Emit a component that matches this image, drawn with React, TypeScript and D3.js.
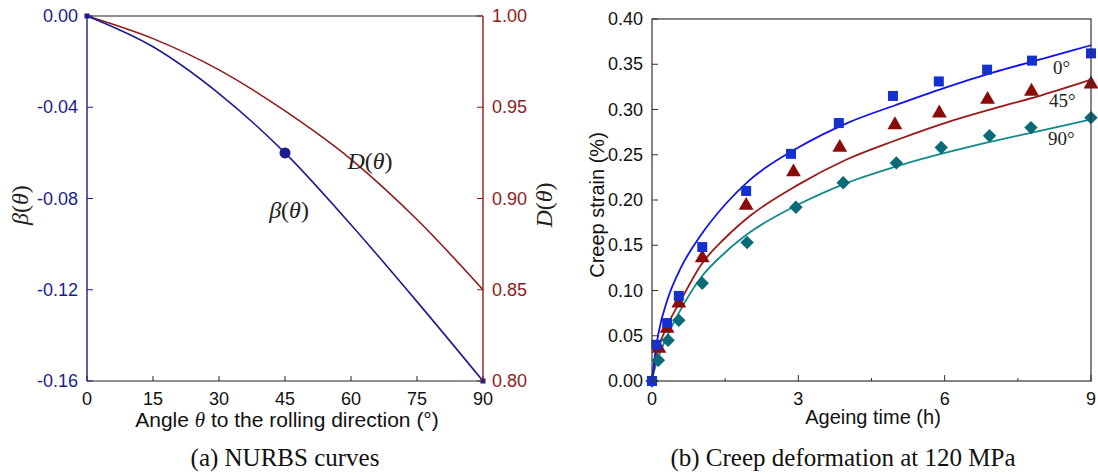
import * as d3 from 'd3'

// ---- (a) NURBS curves ----
const angleTicks = [0, 15, 30, 45, 60, 75, 90]
const betaTicks = [0, -0.04, -0.08, -0.12, -0.16]
const dTicks = [1.0, 0.95, 0.9, 0.85, 0.8]
const betaAngle = [0, 15, 30, 45, 60, 75, 90]
const betaValue = [0, -0.0135, -0.034, -0.06, -0.0915, -0.1252, -0.16]
const dAngle = [0, 15, 30, 45, 60, 75, 90]
const dValue = [1.0, 0.9876, 0.9705, 0.948, 0.9215, 0.8885, 0.85]
const betaPoints = [0, 90]

// ---- (b) creep deformation ----
const timeTicks = [0, 3, 6, 9]
const timeMinor = [1.5, 4.5, 7.5]
const strainTicks = [0, 0.05, 0.1, 0.15, 0.2, 0.25, 0.3, 0.35, 0.4]

const t0 = [0, 0.09, 0.31, 0.55, 1.03, 1.93, 2.85, 3.83, 4.94, 5.88, 6.87, 7.79, 9.0]
const s0 = [0, 0.04, 0.064, 0.094, 0.148, 0.21, 0.251, 0.285, 0.315, 0.331, 0.344, 0.354, 0.362]
const t45 = [0.14, 0.31, 0.55, 1.03, 1.93, 2.9, 3.85, 4.98, 5.89, 6.88, 7.78, 9.0]
const s45 = [0.036, 0.058, 0.086, 0.136, 0.194, 0.231, 0.258, 0.283, 0.296, 0.311, 0.32, 0.328]
const t90 = [0, 0.13, 0.33, 0.55, 1.03, 1.95, 2.95, 3.92, 5.01, 5.93, 6.92, 7.77, 9.0]
const s90 = [0, 0.023, 0.045, 0.067, 0.108, 0.153, 0.192, 0.219, 0.241, 0.258, 0.271, 0.28, 0.291]

const fitTime = [0, 0.05, 0.13, 0.33, 0.6, 1, 1.5, 2, 3, 4, 5, 6, 7, 8, 9]
const fit0 = [0, 0.024, 0.052, 0.092, 0.126, 0.161, 0.195, 0.222, 0.258, 0.285, 0.305, 0.324, 0.341, 0.356, 0.371]
const fit45 = [0, 0.018, 0.036, 0.063, 0.09, 0.128, 0.158, 0.182, 0.217, 0.245, 0.266, 0.285, 0.301, 0.316, 0.333]
const fit90 = [0, 0.012, 0.026, 0.052, 0.08, 0.114, 0.142, 0.164, 0.195, 0.219, 0.237, 0.252, 0.265, 0.277, 0.289]

const NAVY = '#1c1c8e'
const MAROON = '#8e1b1b'
const sans = "'Liberation Sans', Arial, sans-serif"
const serif = "'Liberation Serif', 'Times New Roman', serif"

function LeftChart() {
  const x = d3.scaleLinear().domain([0, 90]).range([87, 483])
  const yB = d3.scaleLinear().domain([-0.16, 0]).range([381, 16])
  const yD = d3.scaleLinear().domain([0.8, 1.0]).range([381, 16])
  const lineB = d3
    .line<number>()
    .x((d) => x(d))
    .y((_, i) => yB(betaValue[i]))
    .curve(d3.curveMonotoneX)
  const lineD = d3
    .line<number>()
    .x((d) => x(d))
    .y((_, i) => yD(dValue[i]))
    .curve(d3.curveMonotoneX)

  return (
    <g>
      <line x1={87} x2={483} y1={16} y2={16} stroke="#222" strokeWidth={1.2} />
      <path d={lineD(dAngle) || ''} fill="none" stroke={MAROON} strokeWidth={1.6} />
      <path d={lineB(betaAngle) || ''} fill="none" stroke={NAVY} strokeWidth={1.6} />
      {betaPoints.map((a) => {
        const v = betaValue[betaAngle.indexOf(a)]
        return <rect key={a} x={x(a) - 2.5} y={yB(v) - 2.5} width={5} height={5} fill={NAVY} />
      })}
      <circle cx={x(45)} cy={yB(betaValue[3])} r={5.5} fill={NAVY} />

      {/* bottom axis */}
      <line x1={87} x2={483} y1={381} y2={381} stroke="#222" strokeWidth={1.2} />
      {angleTicks.map((t) => (
        <g key={t}>
          <line x1={x(t)} x2={x(t)} y1={381} y2={376} stroke="#222" strokeWidth={1} />
          <text x={x(t)} y={405} textAnchor="middle" fontFamily={sans} fontSize={18} fill="#111">
            {t}
          </text>
        </g>
      ))}
      {/* left axis */}
      <line x1={87} x2={87} y1={16} y2={381} stroke={NAVY} strokeWidth={1.4} />
      {betaTicks.map((t) => (
        <g key={t}>
          <line x1={87} x2={93} y1={yB(t)} y2={yB(t)} stroke={NAVY} strokeWidth={1} />
          <text x={78} y={yB(t) + 6} textAnchor="end" fontFamily={sans} fontSize={18} fill={NAVY}>
            {t === 0 ? '0.00' : t.toFixed(2)}
          </text>
        </g>
      ))}
      {/* right axis */}
      <line x1={483} x2={483} y1={16} y2={381} stroke={MAROON} strokeWidth={1.4} />
      {dTicks.map((t) => (
        <g key={t}>
          <line x1={477} x2={483} y1={yD(t)} y2={yD(t)} stroke={MAROON} strokeWidth={1} />
          <text x={492} y={yD(t) + 6} textAnchor="start" fontFamily={sans} fontSize={18} fill={MAROON}>
            {t.toFixed(2)}
          </text>
        </g>
      ))}

      <text x={289} y={218} textAnchor="middle" fontFamily={serif} fontSize={24} fill="#222">
        <tspan fontStyle="italic">β</tspan>(<tspan fontStyle="italic">θ</tspan>)
      </text>
      <text x={370} y={169} textAnchor="middle" fontFamily={serif} fontSize={24} fill="#222">
        <tspan fontStyle="italic">D</tspan>(<tspan fontStyle="italic">θ</tspan>)
      </text>

      <text transform="translate(28,205) rotate(-90)" textAnchor="middle" fontFamily={serif} fontSize={24} fill="#222">
        <tspan fontStyle="italic">β</tspan>(<tspan fontStyle="italic">θ</tspan>)
      </text>
      <text transform="translate(552,205) rotate(-90)" textAnchor="middle" fontFamily={serif} fontSize={24} fill="#222">
        <tspan fontStyle="italic">D</tspan>(<tspan fontStyle="italic">θ</tspan>)
      </text>

      <text x={287} y={427} textAnchor="middle" fontFamily={sans} fontSize={21} fill="#111">
        Angle <tspan fontFamily={serif} fontStyle="italic">θ</tspan> to the rolling direction (°)
      </text>
      <text x={285} y={466} textAnchor="middle" fontFamily={serif} fontSize={25} fill="#111">
        (a) NURBS curves
      </text>
    </g>
  )
}

function RightChart() {
  const x = d3.scaleLinear().domain([0, 9]).range([652, 1091])
  const y = d3.scaleLinear().domain([0, 0.4]).range([381, 19])
  const fitLine = (vals: number[]) =>
    d3
      .line<number>()
      .x((d) => x(d))
      .y((_, i) => y(vals[i]))
      .curve(d3.curveMonotoneX)(fitTime) || ''
  const BLUE = '#1111ee'
  const RED = '#9a1a1a'
  const TEAL = '#138a8a'
  const SQ = '#1530d0'
  const TRI = '#8b0a0a'
  const DIA = '#0b6a78'
  const tri = d3.symbol(d3.symbolTriangle, 95)()
  const dia = d3.symbol(d3.symbolSquare, 90)()

  return (
    <g>
      <path d={fitLine(fit90)} fill="none" stroke={TEAL} strokeWidth={1.8} />
      <path d={fitLine(fit45)} fill="none" stroke={RED} strokeWidth={1.8} />
      <path d={fitLine(fit0)} fill="none" stroke={BLUE} strokeWidth={1.8} />

      {t90.map((t, i) => (
        <path
          key={'d' + i}
          d={dia || ''}
          transform={`translate(${x(t)},${y(s90[i])}) rotate(45)`}
          fill={DIA}
        />
      ))}
      {t45.map((t, i) => (
        <path key={'t' + i} d={tri || ''} transform={`translate(${x(t)},${y(s45[i])})`} fill={TRI} />
      ))}
      {t0.map((t, i) => (
        <rect key={'s' + i} x={x(t) - 5} y={y(s0[i]) - 5} width={10} height={10} fill={SQ} />
      ))}

      <rect x={652} y={19} width={439} height={362} fill="none" stroke="#333" strokeWidth={1.2} />
      {timeTicks.map((t) => (
        <g key={t}>
          <line x1={x(t)} x2={x(t)} y1={381} y2={375} stroke="#333" strokeWidth={1} />
          <text x={x(t)} y={405} textAnchor="middle" fontFamily={sans} fontSize={18} fill="#111">
            {t}
          </text>
        </g>
      ))}
      {timeMinor.map((t) => (
        <line key={t} x1={x(t)} x2={x(t)} y1={381} y2={378} stroke="#333" strokeWidth={1} />
      ))}
      {strainTicks.map((t) => (
        <g key={t}>
          <line x1={652} x2={658} y1={y(t)} y2={y(t)} stroke="#333" strokeWidth={1} />
          <text x={643} y={y(t) + 6} textAnchor="end" fontFamily={sans} fontSize={18} fill="#111">
            {t.toFixed(2)}
          </text>
        </g>
      ))}

      <text x={1053} y={74} fontFamily={serif} fontSize={19} fill="#222">0°</text>
      <text x={1049} y={107} fontFamily={serif} fontSize={19} fill="#222">45°</text>
      <text x={1048} y={145} fontFamily={serif} fontSize={19} fill="#222">90°</text>

      <text transform="translate(604,205) rotate(-90)" textAnchor="middle" fontFamily={sans} fontSize={20} fill="#111">
        Creep strain (%)
      </text>
      <text x={873} y={424} textAnchor="middle" fontFamily={sans} fontSize={20} fill="#111">
        Ageing time (h)
      </text>
      <text x={843} y={466} textAnchor="middle" fontFamily={serif} fontSize={25} fill="#111">
        (b) Creep deformation at 120 MPa
      </text>
    </g>
  )
}

export default function App() {
  return (
    <svg
      width={1098}
      height={473}
      style={{ position: 'absolute', left: 0, top: 0, background: '#fff' }}
    >
      <rect width={1098} height={473} fill="#fff" />
      <LeftChart />
      <RightChart />
    </svg>
  )
}
